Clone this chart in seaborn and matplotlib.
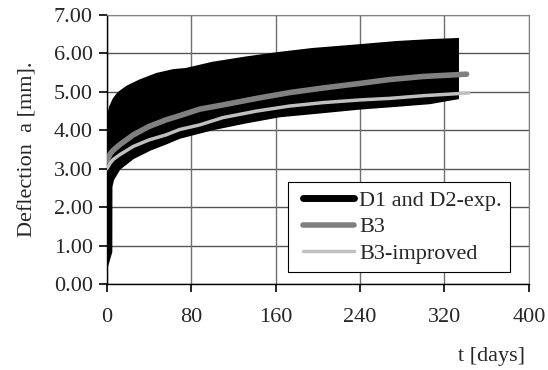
import matplotlib
matplotlib.use("Agg")
import matplotlib.pyplot as plt
import seaborn as sns
import pandas as pd
from matplotlib.lines import Line2D
from matplotlib.legend_handler import HandlerLine2D

# Experimental band (D1 and D2): upper and lower envelope of the measured deflection
up_t = [0, 3, 4.4, 6, 9, 12, 19, 31, 47, 63, 75, 100, 132, 164, 195, 240, 274, 306, 333]
up_val = [4.30, 4.62, 4.70, 4.80, 4.92, 5.00, 5.14, 5.30, 5.47, 5.57, 5.60, 5.76,
          5.90, 6.02, 6.12, 6.22, 6.30, 6.35, 6.38]
low_t = [0, 4.4, 4.5, 6, 12, 25, 41, 56, 69, 100, 132, 164, 195, 240, 274, 306, 333]
low_val = [0.42, 0.84, 2.53, 2.71, 2.99, 3.27, 3.49, 3.65, 3.80, 4.02, 4.20, 4.36,
           4.44, 4.56, 4.63, 4.70, 4.83]

# Model predictions
b3_t = [0, 3, 6, 12, 25, 40, 56, 69, 88, 110, 142, 173, 205, 240, 268, 300, 341]
b3_val = [3.20, 3.38, 3.48, 3.62, 3.88, 4.10, 4.27, 4.38, 4.55, 4.66, 4.83, 4.98,
          5.10, 5.22, 5.32, 5.40, 5.46]
b3i_t = [0, 3, 6, 12, 25, 40, 56, 69, 88, 110, 142, 173, 205, 240, 268, 300, 343]
b3i_val = [3.00, 3.14, 3.24, 3.36, 3.58, 3.75, 3.88, 4.02, 4.14, 4.33, 4.50, 4.63,
           4.72, 4.79, 4.83, 4.90, 4.97]

x_ticks = [0, 80, 160, 240, 320, 400]
y_ticks = [0, 1, 2, 3, 4, 5, 6, 7]

sns.set_theme(style="ticks")
plt.rcParams["font.family"] = ["Liberation Serif", "DejaVu Serif"]

fig = plt.figure(figsize=(5.48, 3.70), dpi=100)
ax = fig.add_axes([0.195, 0.2324, 0.77, 0.7271])

# measured band as a closed polygon: upper edge forward, lower edge backward
band_t = up_t + low_t[::-1]
band_v = up_val + low_val[::-1]
ax.fill(band_t, band_v, color="black", linewidth=1.2, zorder=3)

b3 = pd.DataFrame({"t": b3_t, "a": b3_val})
b3i = pd.DataFrame({"t": b3i_t, "a": b3i_val})
sns.lineplot(data=b3, x="t", y="a", ax=ax, color="#808080", linewidth=4,
             solid_capstyle="round", zorder=4)
sns.lineplot(data=b3i, x="t", y="a", ax=ax, color="#c0c0c0", linewidth=2.5,
             solid_capstyle="round", zorder=5)

ax.set_xlim(0, 400)
ax.set_ylim(0, 7)
ax.set_xticks(x_ticks)
ax.set_xticklabels([str(v) for v in x_ticks])
ax.set_yticks(y_ticks)
ax.set_yticklabels([f"{v:.2f}" for v in y_ticks])

# grid lines at every tick
ax.hlines(y_ticks, 0, 400, colors="#555555", linewidth=1.0, zorder=1)
ax.vlines(x_ticks, 0, 7, colors="#707070", linewidth=1.0, zorder=1)

for side in ("top", "right"):
    ax.spines[side].set_visible(True)
    ax.spines[side].set_color("#808080")
    ax.spines[side].set_linewidth(0.8)
for side in ("left", "bottom"):
    ax.spines[side].set_color("black")
    ax.spines[side].set_linewidth(1.0)

ax.tick_params(axis="both", which="major", direction="out", length=6, width=1.2,
               color="black", labelsize=16, left=True, bottom=True,
               right=False, top=False, pad=4)
ax.tick_params(axis="x", pad=11)

ax.set_xlabel("")
ax.set_ylabel("Deflection  a [mm].", fontsize=16, labelpad=12)
fig.text(0.958, 0.012, "t [days]", ha="right", va="bottom", fontsize=16)

handles = [
    Line2D([0], [0], color="black", linewidth=5),
    Line2D([0], [0], color="#808080", linewidth=4, solid_capstyle="round"),
    Line2D([0], [0], color="#c0c0c0", linewidth=2.5),
]
leg = ax.legend(handles, ["D1 and D2-exp.", "B3", "B3-improved"],
                loc="lower right", bbox_to_anchor=(0.955, 0.045), borderaxespad=0,
                fontsize=16, frameon=True, fancybox=False, framealpha=1,
                edgecolor="black", borderpad=0.35, labelspacing=0.28,
                handlelength=2.65, handletextpad=0.23,
                handler_map={Line2D: HandlerLine2D(xpad=0.32)})
leg.get_frame().set_linewidth(0.8)

fig.savefig("out.png", dpi=100)
